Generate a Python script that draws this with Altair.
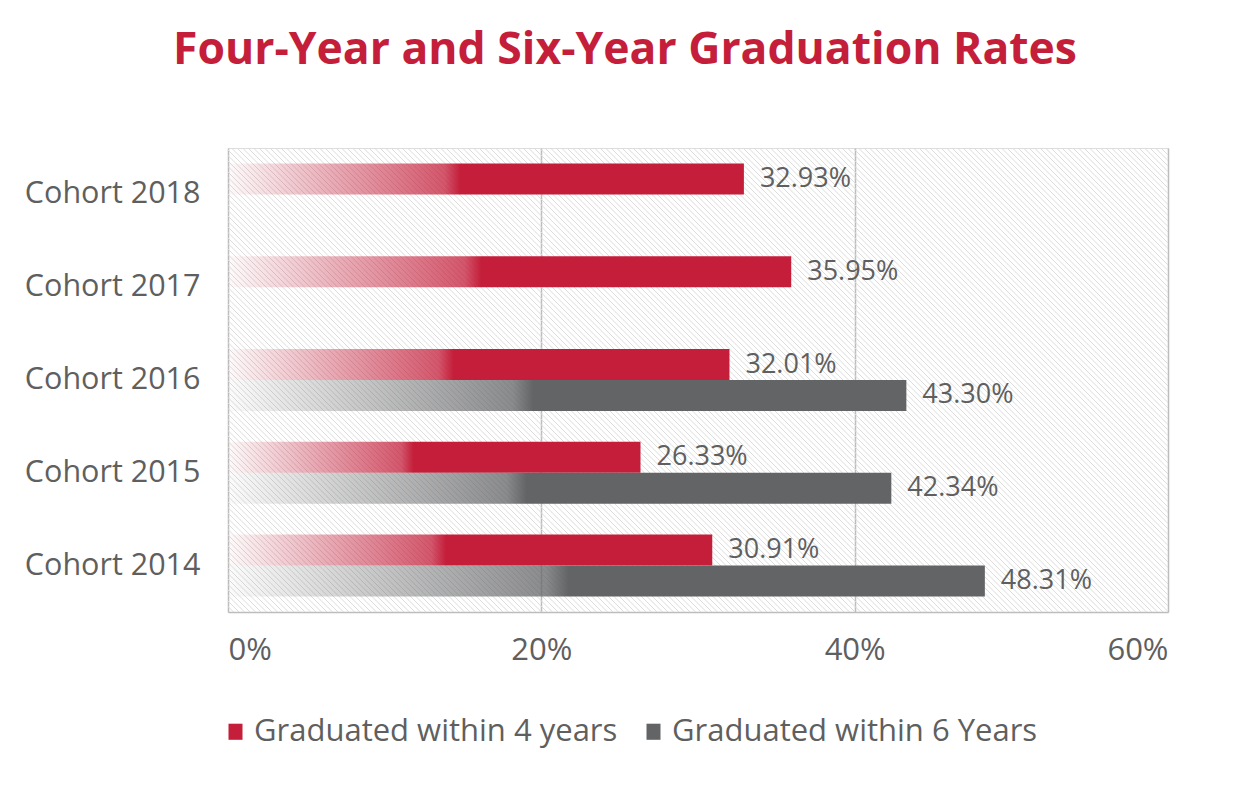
import altair as alt
import pandas as pd

cohorts = ["Cohort 2018", "Cohort 2017", "Cohort 2016", "Cohort 2015", "Cohort 2014"]
four_year = [32.93, 35.95, 32.01, 26.33, 30.91]
six_year = [None, None, 43.30, 42.34, 48.31]
series_names = ["Graduated within 4 years", "Graduated within 6 Years"]
x_ticks = [0, 20, 40, 60]

RED = "#C41E3A"
GREY = "#636466"
TEXT = "#5f5f5f"
FONT = "Open Sans"

rows = []
for c, a, b in zip(cohorts, four_year, six_year):
    rows.append({"cohort": c, "series": series_names[0], "value": a})
    if b is not None:
        rows.append({"cohort": c, "series": series_names[1], "value": b})
df = pd.DataFrame(rows)

W, H = 940, 464
XMAX = 60


def grad(r, g, b):
    return alt.Gradient(
        gradient="linear", x1=0, x2=1, y1=0, y2=0,
        stops=[
            alt.GradientStop(color=f"rgba({r},{g},{b},0.02)", offset=0),
            alt.GradientStop(color=f"rgba({r},{g},{b},0.75)", offset=0.42),
            alt.GradientStop(color=f"rgba({r},{g},{b},1)", offset=0.45),
            alt.GradientStop(color=f"rgba({r},{g},{b},1)", offset=1),
        ],
    )


xscale = alt.Scale(domain=[0, XMAX], nice=False, zero=True)
yscale = alt.Scale(domain=cohorts, paddingInner=0.332, paddingOuter=0.166)
offscale = alt.Scale(domain=series_names, paddingInner=0, paddingOuter=0)

base = alt.Chart(df)

x_enc = alt.X("value:Q", scale=xscale, title=None,
              axis=alt.Axis(values=x_ticks, labelExpr="datum.value + '%'",
                            grid=True, gridColor="#bdbdbd", gridWidth=1.5,
                            domain=True, domainColor="#bdbdbd", domainWidth=1.5,
                            ticks=False, labelPadding=23, labelFontSize=31,
                            labelFont=FONT, labelColor=TEXT))
y_enc = alt.Y("cohort:N", scale=yscale, title=None,
              axis=alt.Axis(ticks=False, domain=False, grid=False, labelPadding=28,
                            labelFontSize=30.5, labelFont=FONT, labelColor=TEXT))
off_enc = alt.YOffset("series:N", scale=offscale)

# hatched plot background (decorative diagonal lines)
step_units = 5.5 * XMAX / W
span_units = H * XMAX / W
hatch = alt.Chart(alt.sequence(0, int((XMAX + span_units) / step_units) + 2, as_="i")).transform_calculate(
    hx=f"-{span_units} + datum.i * {step_units}",
    hx2=f"-{span_units} + datum.i * {step_units} + {span_units}",
).mark_rule(color="#dcdcdc", strokeWidth=1, clip=True).encode(
    x=alt.X("hx:Q", scale=xscale),
    x2="hx2:Q",
    y=alt.value(0),
    y2=alt.value(H),
)

bars4 = base.transform_filter(alt.datum.series == series_names[0]).mark_bar(
    color=grad(196, 30, 58)).encode(x=x_enc, y=y_enc, yOffset=off_enc)
bars6 = base.transform_filter(alt.datum.series == series_names[1]).mark_bar(
    color=grad(99, 100, 102)).encode(x=x_enc, y=y_enc, yOffset=off_enc)

labels = base.transform_calculate(
    label="format(datum.value, '.2f') + '%'"
).mark_text(align="left", baseline="middle", dx=16, fontSize=27, font=FONT, color=TEXT).encode(
    x=x_enc, y=y_enc, yOffset=off_enc, text="label:N")

legend_layer = base.mark_point(opacity=0, filled=True).encode(
    x=x_enc, y=y_enc,
    color=alt.Color("series:N", scale=alt.Scale(domain=series_names, range=[RED, GREY]),
                    legend=alt.Legend(title=None, orient="none", legendX=-8, legendY=568,
                                      direction="horizontal", columns=2,
                                      symbolType="M-1,-1.15H1V1.15H-1Z", symbolSize=196,
                                      symbolOpacity=1, symbolStrokeWidth=0,
                                      labelFont=FONT, labelFontSize=31, labelColor=TEXT,
                                      labelOffset=3, columnPadding=20, labelLimit=600)))

chart = alt.layer(hatch, bars4, bars6, labels, legend_layer).properties(
    width=W, height=H,
    autosize=alt.AutoSizeParams(type="none"),
    padding={"left": 220, "top": 140, "right": 74, "bottom": 171},
    title=alt.TitleParams("Four-Year and Six-Year Graduation Rates", anchor="middle", dx=-73,
                          fontSize=44.5, font=FONT, fontWeight="bold", color=RED,
                          baseline="alphabetic", offset=40),
).configure_view(strokeWidth=0).configure(background="white")

chart.save("out.html", embed_options={"renderer": "svg", "actions": False})
